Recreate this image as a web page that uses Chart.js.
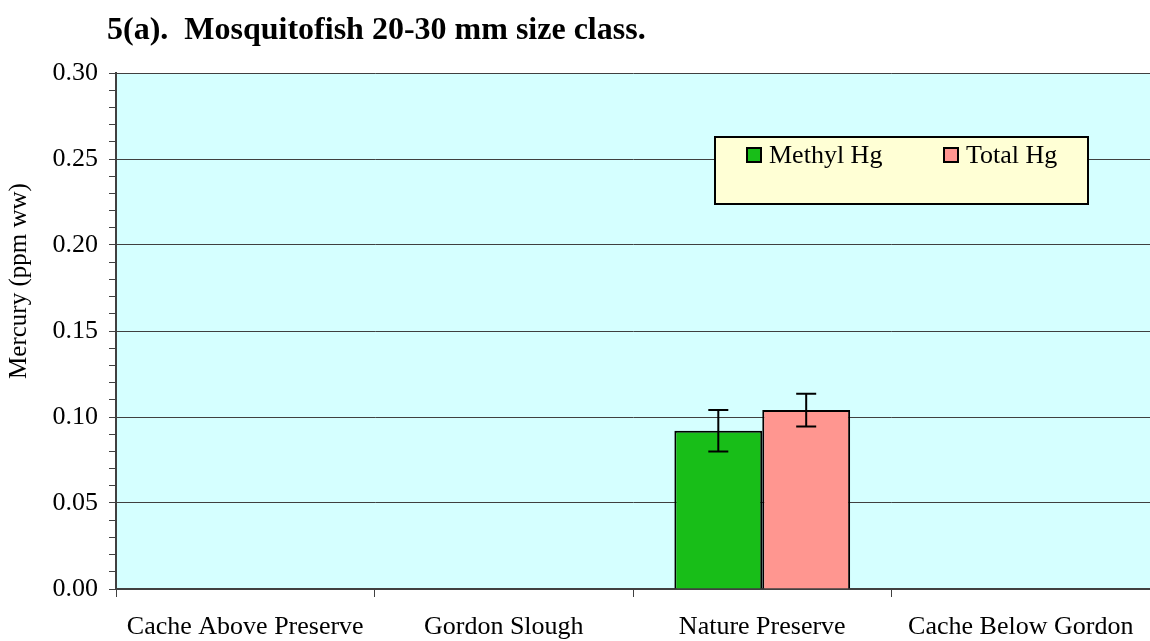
<!DOCTYPE html>
<html>
<head>
<meta charset="utf-8">
<script src="https://cdn.jsdelivr.net/npm/chart.js@4"></script>
<style>
  html, body { margin: 0; padding: 0; background: #fff; }
  #wrap { width: 1150px; height: 641px; }
</style>
</head>
<body>
<div id="wrap"><canvas id="canvas-hg" width="1150" height="641"></canvas></div>
<script>
var sites = ['Cache Above Preserve', 'Gordon Slough', 'Nature Preserve', 'Cache Below Gordon'];
var methylHg = [null, null, 0.092, null];
var methylErr = [null, null, 0.012, null];
var totalHg = [null, null, 0.104, null];
var totalErr = [null, null, 0.0095, null];

var serif = '"Liberation Serif", "Times New Roman", serif';

// plot background
var plotBg = {
    id: 'plotBg',
    beforeDraw: function (chart) {
        var a = chart.chartArea, c = chart.ctx;
        c.save();
        c.fillStyle = '#D5FFFF';
        c.fillRect(a.left, a.top, a.right - a.left, a.bottom - a.top);
        c.restore();
    }
};

// error bars from the err arrays
var errorBars = {
    id: 'errorBars',
    afterDatasetsDraw: function (chart) {
        var c = chart.ctx, y = chart.scales.y;
        chart.data.datasets.forEach(function (ds, i) {
            var meta = chart.getDatasetMeta(i);
            meta.data.forEach(function (bar, j) {
                var v = ds.data[j], e = ds.err[j];
                if (v == null || e == null) return;
                var yt = y.getPixelForValue(v + e), yb = y.getPixelForValue(v - e);
                c.save();
                c.strokeStyle = '#000';
                c.lineWidth = 2;
                c.beginPath();
                c.moveTo(bar.x, yt); c.lineTo(bar.x, yb);
                c.moveTo(bar.x - 10, yt); c.lineTo(bar.x + 10, yt);
                c.moveTo(bar.x - 10, yb); c.lineTo(bar.x + 10, yb);
                c.stroke();
                c.restore();
            });
        });
    }
};

// title, y axis title and boxed legend
var extras = {
    id: 'extras',
    afterDraw: function (chart) {
        var c = chart.ctx;
        c.save();
        c.fillStyle = '#000';
        c.font = 'bold 32px ' + serif;
        c.textBaseline = 'middle';
        c.textAlign = 'left';
        c.fillText('5(a).  Mosquitofish 20-30 mm size class.', 107, 31);

        c.save();
        c.translate(19, 281);
        c.rotate(-Math.PI / 2);
        c.textAlign = 'center';
        c.font = '25px ' + serif;
        c.fillText('Mercury (ppm ww)', 0, 0);
        c.restore();

        c.fillStyle = '#FFFFD5';
        c.fillRect(715, 137, 373, 67);
        c.strokeStyle = '#000';
        c.lineWidth = 2;
        c.strokeRect(715, 137, 373, 67);

        var items = [
            { x: 746, label: 'Methyl Hg', color: chart.data.datasets[0].backgroundColor },
            { x: 943, label: 'Total Hg', color: chart.data.datasets[1].backgroundColor }
        ];
        items.forEach(function (it) {
            c.fillStyle = it.color;
            c.fillRect(it.x + 1, 148, 14, 14);
            c.strokeRect(it.x + 1, 148, 14, 14);
            c.fillStyle = '#000';
            c.font = '26px ' + serif;
            c.fillText(it.label, it.x + 23, 156);
        });
        c.restore();
    }
};

new Chart(document.getElementById('canvas-hg'), {
    type: 'bar',
    data: {
        labels: sites,
        datasets: [{
            label: 'Methyl Hg',
            data: methylHg,
            err: methylErr,
            backgroundColor: '#18BE18',
            borderColor: '#000',
            borderWidth: 2
        }, {
            label: 'Total Hg',
            data: totalHg,
            err: totalErr,
            backgroundColor: '#FF9690',
            borderColor: '#000',
            borderWidth: 2
        }]
    },
    options: {
        responsive: false,
        animation: false,
        layout: { padding: { top: 73, right: 0, bottom: 0, left: 0 } },
        categoryPercentage: 0.68,
        barPercentage: 1.0,
        plugins: {
            legend: { display: false },
            title: { display: false },
            tooltip: { enabled: false }
        },
        scales: {
            x: {
                grid: {
                    offset: true,
                    drawOnChartArea: false,
                    tickLength: 8,
                    tickWidth: 1,
                    tickColor: '#404040'
                },
                border: { color: '#404040', width: 2 },
                ticks: {
                    color: '#000',
                    font: { family: serif, size: 26 },
                    padding: 15,
                    maxRotation: 0
                },
                afterFit: function (s) { s.height = 52; }
            },
            y: {
                min: 0,
                max: 0.30,
                ticks: {
                    stepSize: 0.01,
                    autoSkip: false,
                    color: '#000',
                    font: { family: serif, size: 26 },
                    padding: 11,
                    callback: function (v) {
                        var k = Math.round(v * 100);
                        return k % 5 === 0 ? (k / 100).toFixed(2) : '';
                    }
                },
                grid: {
                    tickLength: 7,
                    color: function (ctx) {
                        var k = Math.round(ctx.tick.value * 100);
                        return k % 5 === 0 ? '#404040' : 'rgba(0,0,0,0)';
                    },
                    tickColor: '#404040'
                },
                border: { color: '#404040', width: 2 },
                afterFit: function (s) { s.width = 116; }
            }
        }
    },
    plugins: [plotBg, errorBars, extras]
});
</script>
</body>
</html>
